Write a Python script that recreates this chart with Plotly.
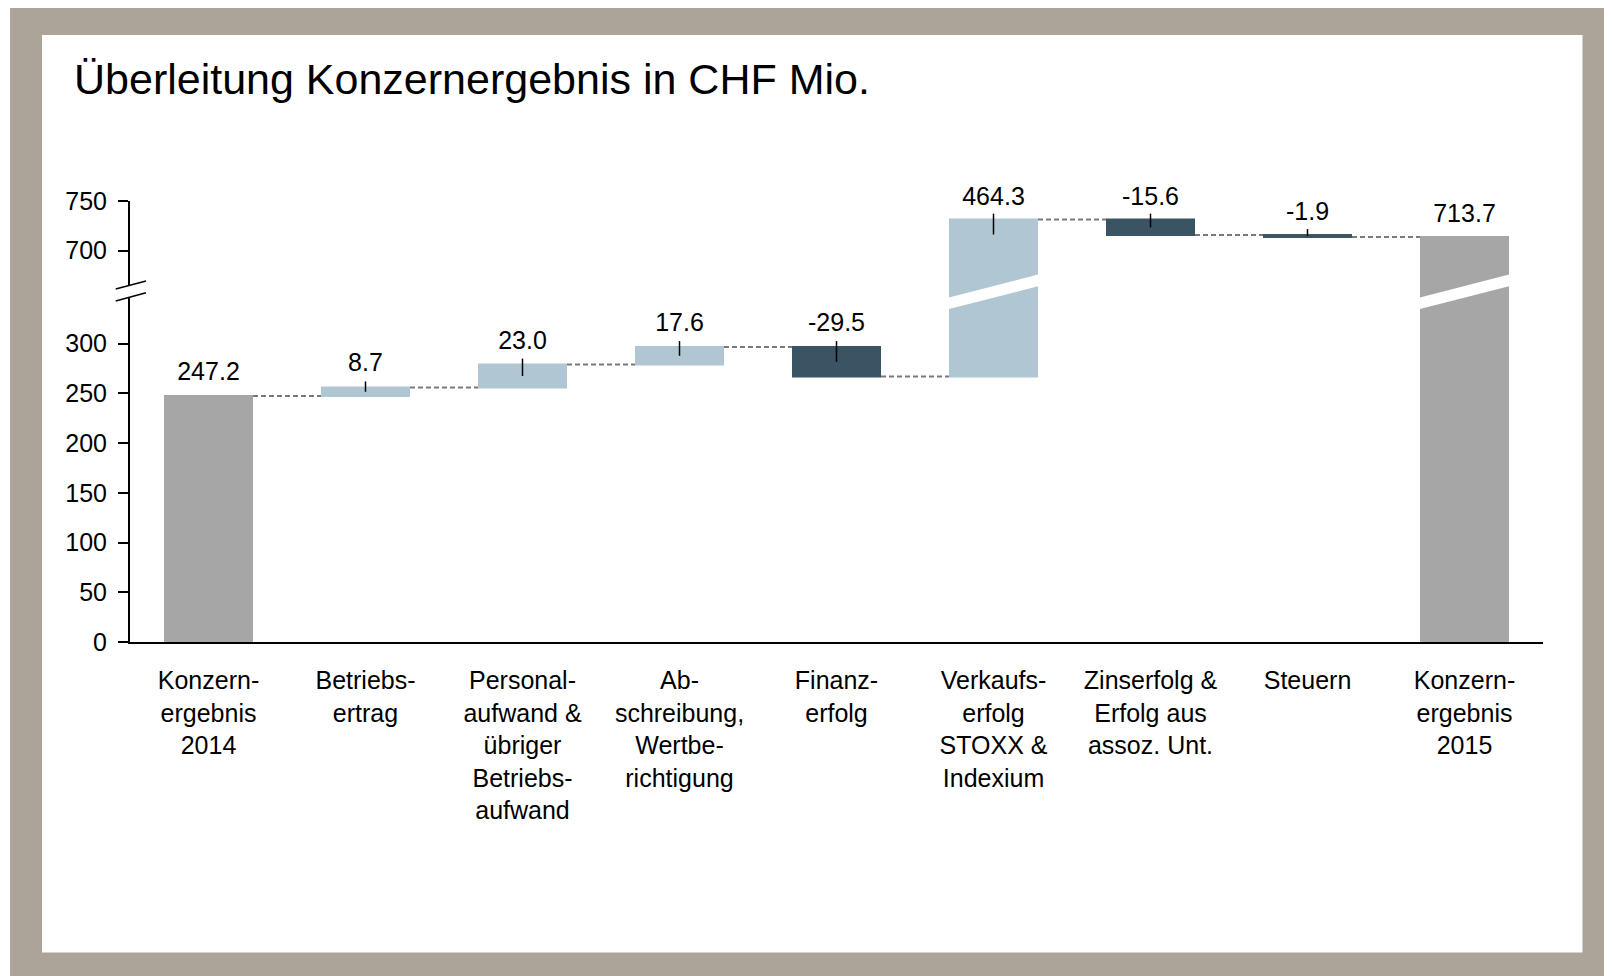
import plotly.graph_objects as go

# data
categories = [
    "Konzern-<br>ergebnis<br>2014",
    "Betriebs-<br>ertrag",
    "Personal-<br>aufwand &<br>übriger<br>Betriebs-<br>aufwand",
    "Ab-<br>schreibung,<br>Wertbe-<br>richtigung",
    "Finanz-<br>erfolg",
    "Verkaufs-<br>erfolg<br>STOXX &<br>Indexium",
    "Zinserfolg &<br>Erfolg aus<br>assoz. Unt.",
    "Steuern",
    "Konzern-<br>ergebnis<br>2015",
]
values = [247.2, 8.7, 23.0, 17.6, -29.5, 464.3, -15.6, -1.9, 713.7]
measures = ["absolute", "relative", "relative", "relative", "relative",
            "relative", "relative", "relative", "absolute"]
low_ticks = [0, 50, 100, 150, 200, 250, 300]
high_ticks = [700, 750]

# broken axis: lower and upper value windows
low_range = [0, 351.8]
high_range = [658.45, 750]

C_UP = "#b0c6d3"
C_DOWN = "#3a5463"
C_TOTAL = "#a6a6a6"
C_FRAME = "#aca399"
FONT = "Liberation Sans, Arial, sans-serif"

# the page body adds an 8px margin, so the figure is 8px smaller
OFF = 8
W, H = 1612 - OFF, 976 - OFF
# plot area in page pixels
L, R, T, B = 130, 1543.5, 201, 641.7


def px(x):
    return (x - L) / (R - L)


def py(y):
    return (B - y) / (B - T)


split = py(292)

# running totals -> bar tops
starts, ends = [], []
run = 0
for v, m in zip(values, measures):
    if m == "absolute":
        starts.append(0)
        run = v
    else:
        starts.append(run)
        run += v
    ends.append(run)
tops = [max(s, e) for s, e in zip(starts, ends)]
labels = [f"{v:.1f}" for v in values]

fig = go.Figure()

for xa, ya in (("x", "y"), ("x2", "y2")):
    fig.add_trace(go.Waterfall(
        x=categories, y=values, measure=measures,
        xaxis=xa, yaxis=ya,
        increasing=dict(marker=dict(color=C_UP, line=dict(width=0))),
        decreasing=dict(marker=dict(color=C_DOWN, line=dict(width=0))),
        totals=dict(marker=dict(color=C_TOTAL, line=dict(width=0))),
        connector=dict(mode="between",
                       line=dict(color="#7a7a7a", width=2, dash="5px,3px")),
        textinfo="none", hoverinfo="skip", showlegend=False,
    ))

    # small marker lines at the top of the change bars
    tx, ty = [], []
    for c, s, e, t, m in zip(categories, starts, ends, tops, measures):
        if m != "relative":
            continue
        bottom = max((s + e) / 2, t - 15)
        tx += [c, c, None]
        ty += [bottom, t + 6, None]
    fig.add_trace(go.Scatter(
        x=tx, y=ty, mode="lines", xaxis=xa, yaxis=ya,
        line=dict(color="black", width=1.5),
        hoverinfo="skip", showlegend=False,
    ))

# value labels, each in the window that holds its bar top
for xa, ya, upper in (("x", "y", False), ("x2", "y2", True)):
    idx = [i for i, t in enumerate(tops) if (t > 500) == upper]
    fig.add_trace(go.Scatter(
        x=[categories[i] for i in idx],
        y=[tops[i] for i in idx],
        text=[labels[i] for i in idx],
        mode="markers+text", textposition="top center", cliponaxis=False,
        marker=dict(size=12 if upper else 14, color="rgba(0,0,0,0)"),
        textfont=dict(size=25, color="black", family=FONT),
        xaxis=xa, yaxis=ya, hoverinfo="skip", showlegend=False,
    ))

shapes = [
    dict(type="rect", xref="paper", yref="paper", layer="below",
         x0=px(10), x1=px(1650), y0=py(1010), y1=py(0),
         fillcolor=C_FRAME, line=dict(width=0)),
    dict(type="rect", xref="paper", yref="paper", layer="below",
         x0=px(42), x1=px(1583), y0=py(952), y1=py(35),
         fillcolor="white", line=dict(width=0)),
]

# white slanted cut through the bars that cross the break
for i, t in enumerate(tops):
    if starts[i] < low_range[1] and ends[i] > high_range[0]:
        x0, x1 = i - 0.29, i + 0.29
        shapes.append(dict(
            type="path", xref="x", yref="paper", layer="above",
            path=(f"M {x0},{py(297.7)} L {x1},{py(274.3)} "
                  f"L {x1},{py(286)} L {x0},{py(309.3)} Z"),
            fillcolor="white", line=dict(width=0),
        ))

# axis break marks on the y axis
shapes.append(dict(
    type="path", xref="paper", yref="paper", layer="above",
    path=(f"M {px(124)},{py(286.8)} L {px(136)},{py(283.6)} "
          f"L {px(136)},{py(295.4)} L {px(124)},{py(298.7)} Z"),
    fillcolor="white", line=dict(width=0),
))
for ya, yb in ((289, 281), (301, 292.7)):
    shapes.append(dict(
        type="line", xref="paper", yref="paper", layer="above",
        x0=px(115.7), y0=py(ya), x1=px(146), y1=py(yb),
        line=dict(color="black", width=1.5),
    ))

fig.update_layout(
    width=W, height=H,
    margin=dict(l=L - OFF, r=1612 - R, t=T - OFF, b=976 - B, pad=0),
    paper_bgcolor="white", plot_bgcolor="rgba(0,0,0,0)",
    font=dict(family=FONT, size=25, color="black"),
    title=dict(text="Überleitung Konzernergebnis in CHF Mio.",
               xref="container", yref="container",
               x=(74 - OFF) / W, xanchor="left",
               y=1 - (79 - OFF) / H, yanchor="middle",
               font=dict(size=43, family=FONT, color="black")),
    waterfallgap=0.433,
    hovermode=False,
    shapes=shapes,
    xaxis=dict(domain=[0, 1], anchor="y", range=[-0.5, 8.5],
               categoryorder="array", categoryarray=categories,
               showline=True, linecolor="black", linewidth=2,
               ticks="", showgrid=False, zeroline=False,
               tickfont=dict(size=25), ticklabelstandoff=15),
    xaxis2=dict(domain=[0, 1], anchor="y2", matches="x", visible=False),
    yaxis=dict(domain=[0, split], range=low_range, tickvals=low_ticks,
               showline=True, linecolor="black", linewidth=2,
               ticks="outside", ticklen=10, tickwidth=2, tickcolor="black",
               showgrid=False, zeroline=False, ticklabelstandoff=6),
    yaxis2=dict(domain=[split, 1], range=high_range, tickvals=high_ticks,
                showline=True, linecolor="black", linewidth=2,
                ticks="outside", ticklen=10, tickwidth=2, tickcolor="black",
                showgrid=False, zeroline=False, ticklabelstandoff=6),
)

fig.write_html("out.html")
